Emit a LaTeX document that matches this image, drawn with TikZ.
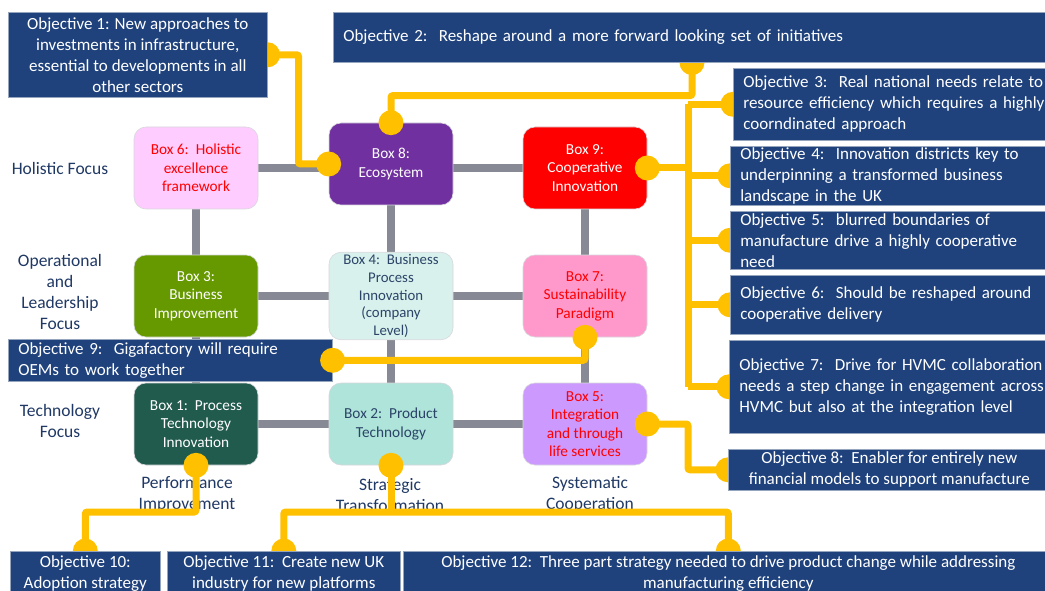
\documentclass[tikz,border=0pt]{standalone}
\usepackage{fontspec}
\setmainfont{Carlito}
\definecolor{navy}{RGB}{31,66,125}
\definecolor{objedge}{RGB}{150,165,190}
\definecolor{ylw}{HTML}{FFC000}
\definecolor{lineg}{RGB}{135,138,148}
\definecolor{labc}{RGB}{31,56,100}
\definecolor{c6}{HTML}{FFCCFF}
\definecolor{c8}{HTML}{7030A0}
\definecolor{c9}{HTML}{FF0000}
\definecolor{c3}{HTML}{669900}
\definecolor{c4}{HTML}{D8F1EC}
\definecolor{c7}{HTML}{FF99CC}
\definecolor{c1}{HTML}{215B4E}
\definecolor{c2}{HTML}{AEE4DA}
\definecolor{c5}{HTML}{CC99FF}
\definecolor{redt}{HTML}{FF0000}
\definecolor{dkt}{RGB}{43,68,104}
\definecolor{boxedge}{RGB}{215,215,220}
\newcommand\objfont{\fontsize{17}{21}\selectfont}
\newcommand\labfont{\fontsize{17.5}{21}\selectfont}
\newcommand\boxfont{\fontsize{15.3}{18.5}\selectfont}
\newcommand\boxfontsm{\fontsize{14.8}{17.8}\selectfont}
\pgfdeclarelayer{back}
\pgfdeclarelayer{mid}
\pgfdeclarelayer{ylwlayer}
\pgfsetlayers{back,mid,ylwlayer,main}
\begin{document}
\begin{tikzpicture}[x=1pt,y=-1pt,
  gl/.style={draw=lineg, line width=8pt},
  yl/.style={draw=ylw, line width=7pt, rounded corners=2pt},
  ydot/.style={fill=ylw, draw=none},
  obj/.style={fill=navy, draw=objedge, line width=0.6pt, text=white, font=\objfont, inner sep=0pt, anchor=north west},
  objL/.style={obj, align=left, inner xsep=10pt},
  objC/.style={obj, align=center},
  bx/.style={rounded corners=12pt, minimum width=124pt, minimum height=82pt, align=center, inner sep=2pt, font=\boxfont, draw=boxedge, line width=0.6pt},
  lab/.style={text=labc, font=\labfont, align=center}
]
\useasboundingbox (0,0) rectangle (1045,591);

% ---------- boxes, labels, objective 9 ----------
\begin{pgfonlayer}{mid}
\node[bx, fill=c6, text=redt] (b6) at (196,168) {Box 6:\ \ Holistic\\excellence\\framework};
\node[bx, fill=c8, text=white] (b8) at (391,164) {Box 8:\\Ecosystem};
\node[bx, fill=c9, text=white] (b9) at (585,168) {Box 9:\\Cooperative\\Innovation};
\node[bx, fill=c3, text=white] (b3) at (196,296) {Box 3:\\Business\\Improvement};
\node[bx, fill=c4, text=dkt, font=\boxfontsm] (b4) at (391,296) {Box 4:\ \ Business\\Process\\Innovation\\(company\\Level)};
\node[bx, fill=c7, text=redt] (b7) at (585,296) {Box 7:\\Sustainability\\Paradigm};
\node[bx, fill=c1, text=white] (b1) at (196,424) {Box 1:\ \ Process\\Technology\\Innovation};
\node[bx, fill=c2, text=dkt] (b2) at (391,424) {Box 2:\ \ Product\\Technology};
\node[bx, fill=c5, text=redt] (b5) at (585,424) {Box 5:\\Integration\\and through\\life services};

\node[lab] (l1) at (60,168) {Holistic Focus};
\node[lab] (l2) at (60,292) {Operational\\and\\Leadership\\Focus};
\node[lab] (l3) at (60,421) {Technology\\Focus};
\node[lab] (l4) at (187,494) {Performance\\Improvement};
\node[lab] (l5) at (390,495) {Strategic\\Transformation};
\node[lab] (l6) at (590,494) {Systematic\\Cooperation};

\node[objL, text width=304pt, minimum height=42pt] (o9) at (8,339) {Objective 9:\ \ Gigafactory will require\\OEMs to work together};
\end{pgfonlayer}

% ---------- grey grid ----------
\begin{pgfonlayer}{back}
\draw[gl] (b6.east) -- (b6.east -| b8.west);
\draw[gl] (b9.west -| b8.east) -- (b9.west);
\draw[gl] (b3.east) -- (b4.west);
\draw[gl] (b4.east) -- (b7.west);
\draw[gl] (b1.east) -- (b2.west);
\draw[gl] (b2.east) -- (b5.west);
\draw[gl] (b6.south) -- (b3.north);
\draw[gl] (b3.south) -- (b1.north);
\draw[gl] (b8.south) -- (b4.north);
\draw[gl] (b4.south) -- (b2.north);
\draw[gl] (b9.south) -- (b7.north);
\draw[gl] (b7.south) -- (b5.north);
\end{pgfonlayer}

% ---------- objective boxes ----------
\node[objC, minimum width=259pt, minimum height=85pt] (o1) at (8,12) {Objective 1: New approaches to\\investments in infrastructure,\\essential to developments in all\\other sectors};
\node[objL, text width=727pt, minimum height=50pt] (o2) at (333,12) {Objective 2:\ \ Reshape around a more forward looking set of initiatives};
\node[objL, text width=327pt, minimum height=72pt] (o3) at (733,68) {Objective 3:\ \ Real national needs relate to\\resource efficiency which requires a highly\\coorndinated approach};
\node[objL, text width=330pt, minimum height=59pt] (o4) at (730,146) {Objective 4:\ \ Innovation districts key to\\underpinning a transformed business\\landscape in the UK};
\node[objL, text width=330pt, minimum height=58pt] (o5) at (730,211) {Objective 5:\ \ blurred boundaries of\\manufacture drive a highly cooperative\\need};
\node[objL, text width=330pt, minimum height=59pt] (o6) at (730,275) {Objective 6:\ \ Should be reshaped around\\cooperative delivery};
\node[objL, text width=331pt, minimum height=93pt] (o7) at (729,340) {Objective 7:\ \ Drive for HVMC collaboration\\needs a step change in engagement across\\HVMC but also at the integration level};
\node[objC, minimum width=322pt, minimum height=41pt] (o8) at (728,449) {Objective 8:\ \ Enabler for entirely new\\financial models to support manufacture};
\node[objC, minimum width=150pt, minimum height=44pt] (o10) at (10,551) {Objective 10:\\Adoption strategy};
\node[objC, minimum width=233pt, minimum height=44pt] (o11) at (167,551) {Objective 11:\ \ Create new UK\\industry for new platforms};
\node[objC, minimum width=650pt, minimum height=44pt] (o12) at (403,551) {Objective 12:\ \ Three part strategy needed to drive product change while addressing\\manufacturing efficiency};

% ---------- yellow connectors ----------
\begin{pgfonlayer}{ylwlayer}
\coordinate (tr) at (688,0);
\coordinate (bus) at (0,512);
\coordinate (o2p) at ([xshift=359pt]o2.south west);
\draw[yl] (o1.east) -- ++(31,0) |- (b8.west);
\draw[yl] (o2p) -- ++(0,33) -| (b8.north);
\draw[yl] (b9.east) -- (tr |- b9.east);
\draw[yl] (tr |- o3.west) -- (tr |- o7.west);
\foreach \o in {o3,o4,o5,o6,o7} {\draw[yl] (tr |- \o.west) -- (\o.west);}
\draw[yl] (b5.east) -- (tr |- b5.east) |- (o8.west);
\draw[yl] (o9.east) -| (b7.south);
\draw[yl] (b1.south) -- (b1.south |- bus) -| (o10.north);
\draw[yl] (b2.south) -- (b2.south |- bus);
\draw[yl] (o11.north) |- (o12.north |- bus) -- (o12.north);
\foreach \p in {o1.east,o2p,o3.west,o4.west,o5.west,o6.west,o7.west,o8.west,o10.north,o11.north,o12.north,
                b8.west,b8.north,b9.east,b5.east,b7.south,b1.south,b2.south,o9.east}
  {\fill[ydot] (\p) circle (12.5pt);}
\end{pgfonlayer}
\end{tikzpicture}
\end{document}
